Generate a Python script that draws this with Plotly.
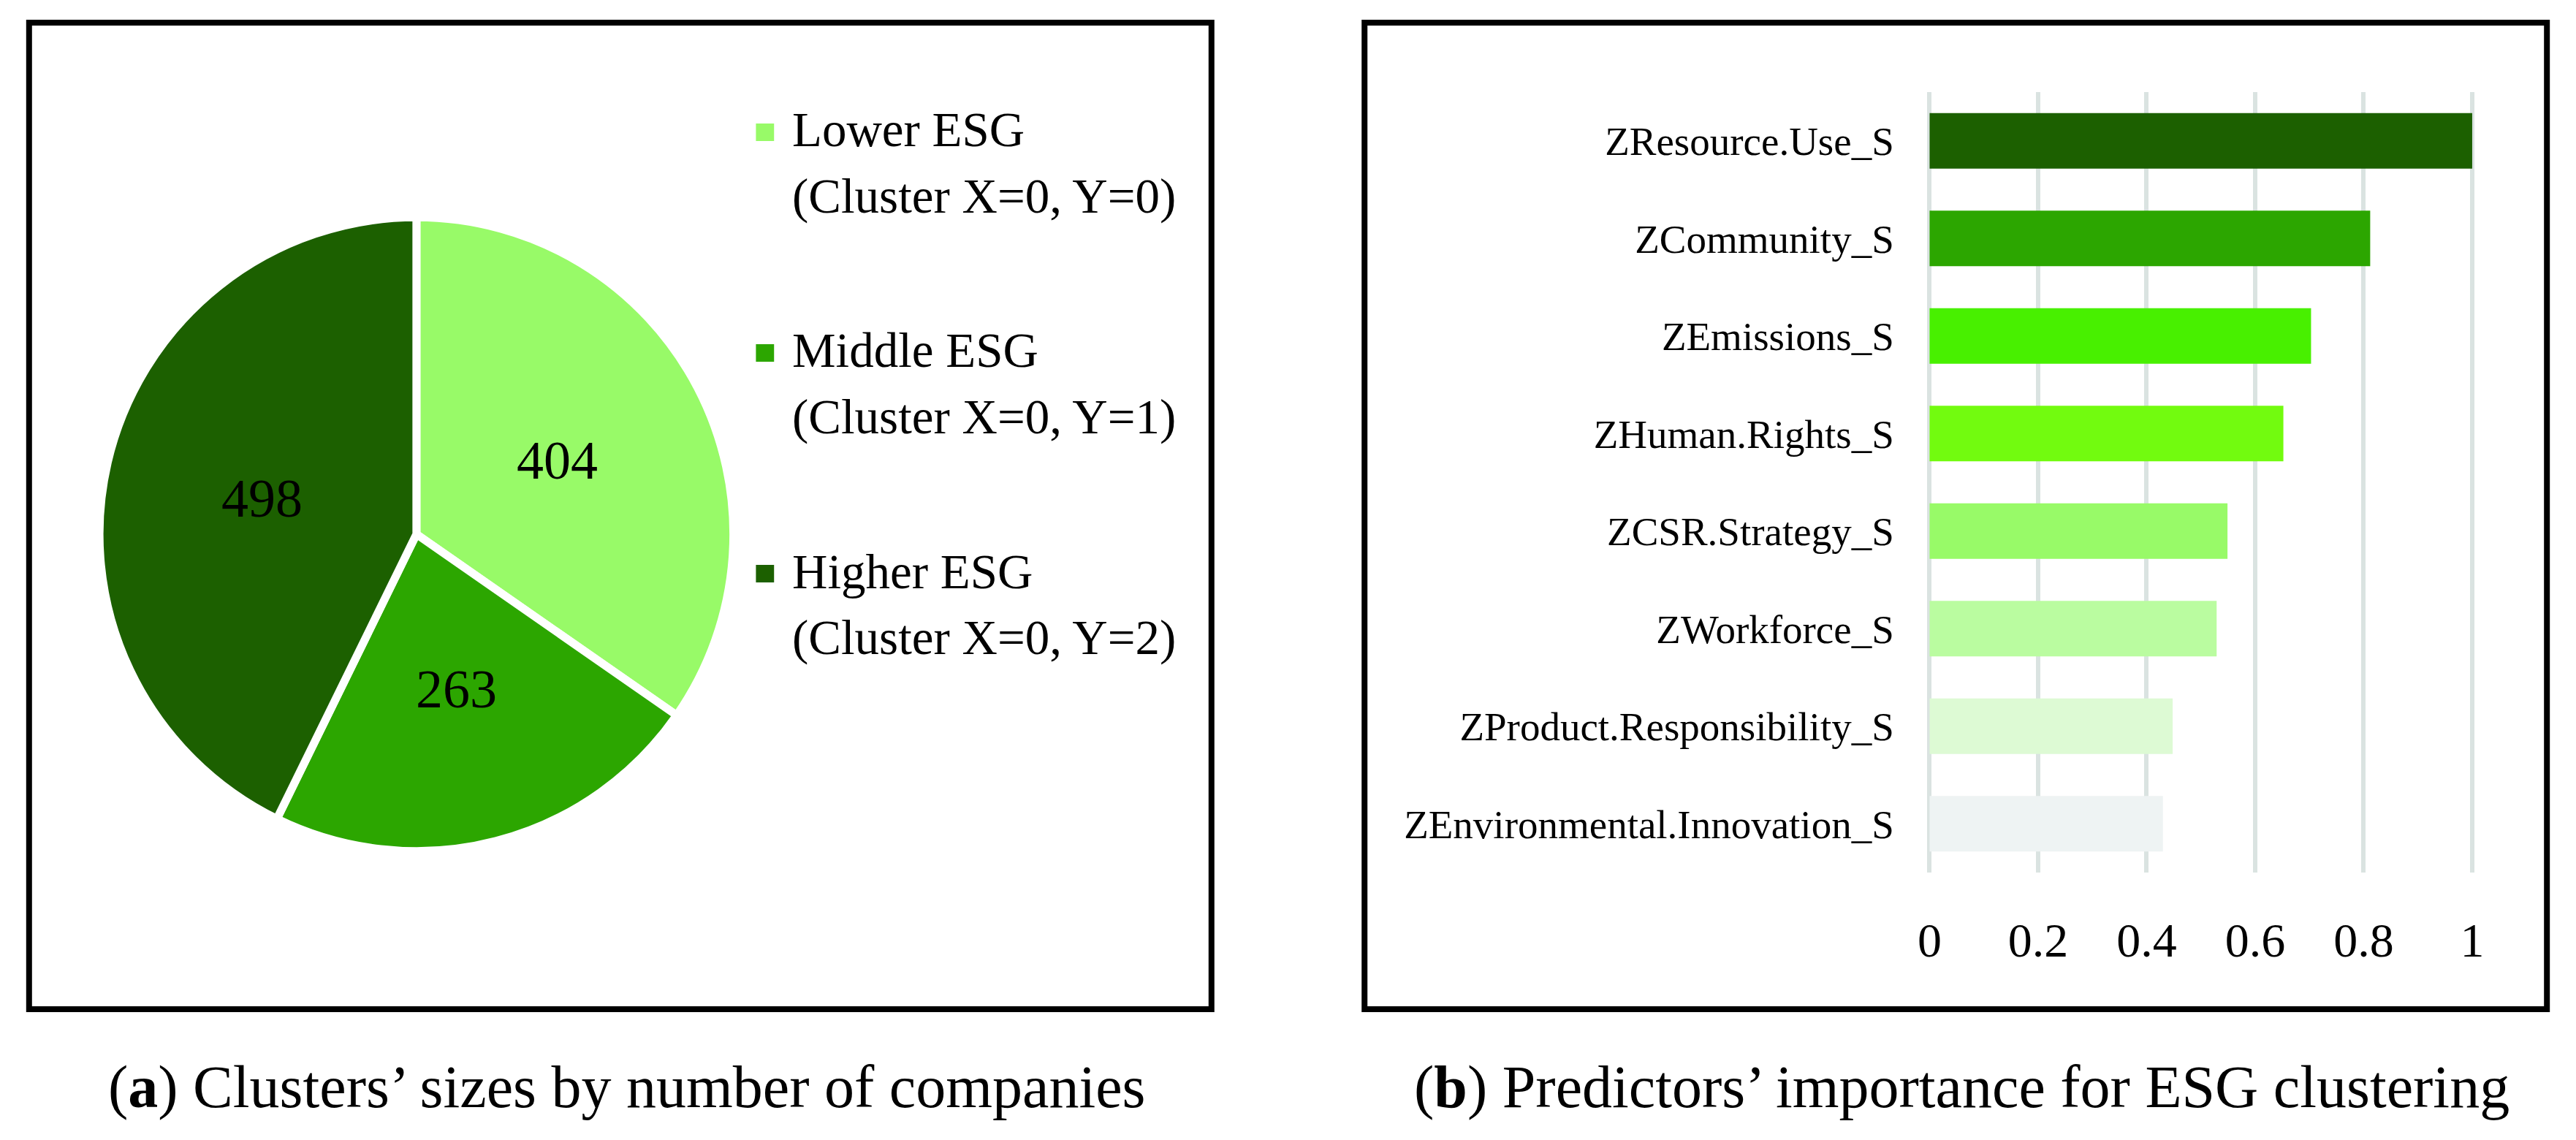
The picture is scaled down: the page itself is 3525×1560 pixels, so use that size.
"""
Two-panel figure: (a) cluster sizes pie, (b) predictor importance bars.
"""
import math
import plotly.graph_objects as go

W, H = 3525, 1560
FONT = "Liberation Serif"

# (a) cluster sizes
clusters = ["Lower ESG", "Middle ESG", "Higher ESG"]
cluster_notes = ["(Cluster X=0, Y=0)", "(Cluster X=0, Y=1)", "(Cluster X=0, Y=2)"]
cluster_sizes = [404, 263, 498]
cluster_colors = ["#98FA68", "#2CA600", "#1C6000"]

# (b) predictors' importance, top to bottom
predictors = ["ZResource.Use_S", "ZCommunity_S", "ZEmissions_S", "ZHuman.Rights_S",
              "ZCSR.Strategy_S", "ZWorkforce_S", "ZProduct.Responsibility_S",
              "ZEnvironmental.Innovation_S"]
importance = [1.0, 0.812, 0.703, 0.652, 0.549, 0.529, 0.448, 0.430]
bar_colors = ["#1C6000", "#2CA600", "#48F000", "#72FB0F", "#98FA68", "#BAFCA0",
              "#DDFAD4", "#EEF3F3"]
x_ticks = [0, 0.2, 0.4, 0.6, 0.8, 1]

captions = ["(<b>a</b>) Clusters\u2019 sizes by number of companies",
            "(<b>b</b>) Predictors\u2019 importance for ESG clustering"]


def px_x(v):
    return v / W


def px_y(v):
    return 1 - v / H


fig = go.Figure()

# pie: centre (561, 731), radius 437 px
cx, cy, r = 561, 731, 437
fig.add_trace(go.Pie(
    labels=clusters, values=cluster_sizes, sort=False, direction="clockwise",
    marker=dict(colors=cluster_colors, line=dict(color="white", width=11)),
    textinfo="none",
    domain=dict(x=[px_x(cx - r), px_x(cx + r)], y=[px_y(cy + r), px_y(cy - r)]),
    showlegend=False, hoverinfo="label+value",
))

fig.add_trace(go.Bar(
    x=importance, y=predictors, orientation="h",
    marker=dict(color=bar_colors, line=dict(width=0)),
    xaxis="x", yaxis="y", showlegend=False,
))

# axis 0 -> 2647 px, 1 -> 3395 px
x0px, x1px = 2647, 3395
pad = 0.005
unit = x1px - x0px
fig.update_layout(
    width=W, height=H,
    margin=dict(l=0, r=0, t=0, b=0),
    paper_bgcolor="white", plot_bgcolor="white",
    font=dict(family=FONT, color="black"),
    bargap=0.43,
    xaxis=dict(
        domain=[px_x(x0px - pad * unit), px_x(x1px + pad * unit)],
        range=[-pad, 1 + pad], tickvals=x_ticks, ticktext=[f"{t:g}" for t in x_ticks],
        showgrid=True, gridcolor="#DAE3E1", gridwidth=6, zeroline=False,
        showline=False, ticks="", tickfont=dict(size=66), ticklabelstandoff=48,
        fixedrange=True,
    ),
    yaxis=dict(
        domain=[px_y(1194), px_y(126)], anchor="x",
        categoryorder="array", categoryarray=predictors,
        range=[len(predictors) - 0.5, -0.5],
        showgrid=False, zeroline=False, showline=False, ticks="",
        tickfont=dict(size=55), ticklabelstandoff=44, fixedrange=True,
    ),
)

shapes = []
annotations = []

# panel frames
for bx0, bx1 in [(27, 1657), (1868, 3498)]:
    shapes.append(dict(type="rect", xref="paper", yref="paper",
                       x0=px_x(bx0), x1=px_x(bx1), y0=px_y(1381), y1=px_y(31),
                       line=dict(color="black", width=8), fillcolor="rgba(0,0,0,0)"))

# value labels at half radius along each slice's mid-angle
total = sum(cluster_sizes)
start = 0.0
for v in cluster_sizes:
    mid = math.radians((start + v / 2) / total * 360)
    lx = cx + 0.5 * r * math.sin(mid)
    ly = cy - 0.5 * r * math.cos(mid)
    annotations.append(dict(text=str(v), x=px_x(lx), y=px_y(ly), xref="paper", yref="paper",
                            xanchor="center", yanchor="middle", showarrow=False,
                            font=dict(size=74)))
    start += v

# legend for the pie
legend_sq = [181, 483, 785]
legend_l1 = [177, 479, 782]
legend_l2 = [268, 570, 872]
for name, note, col, sy, y1, y2 in zip(clusters, cluster_notes, cluster_colors,
                                       legend_sq, legend_l1, legend_l2):
    shapes.append(dict(type="rect", xref="paper", yref="paper",
                       x0=px_x(1029), x1=px_x(1054), y0=px_y(sy + 12), y1=px_y(sy - 12),
                       line=dict(width=0), fillcolor=col))
    annotations.append(dict(text=name, x=px_x(1077), y=px_y(y1), xref="paper", yref="paper",
                            xanchor="left", yanchor="middle", showarrow=False,
                            font=dict(size=67)))
    annotations.append(dict(text=note, x=px_x(1077), y=px_y(y2), xref="paper",
                            yref="paper", xanchor="left", yanchor="middle",
                            showarrow=False, font=dict(size=67)))

for cap, cxp in zip(captions, [851, 2691]):
    annotations.append(dict(text=cap, x=px_x(cxp), y=px_y(1487), xref="paper", yref="paper",
                            xanchor="center", yanchor="middle", showarrow=False,
                            font=dict(size=82)))

fig.update_layout(shapes=shapes, annotations=annotations)

# drop the page's default body margin so the figure sits at the window origin
fig.write_html("out.html", config={"displayModeBar": False},
               post_script="document.body.style.margin='0';")
